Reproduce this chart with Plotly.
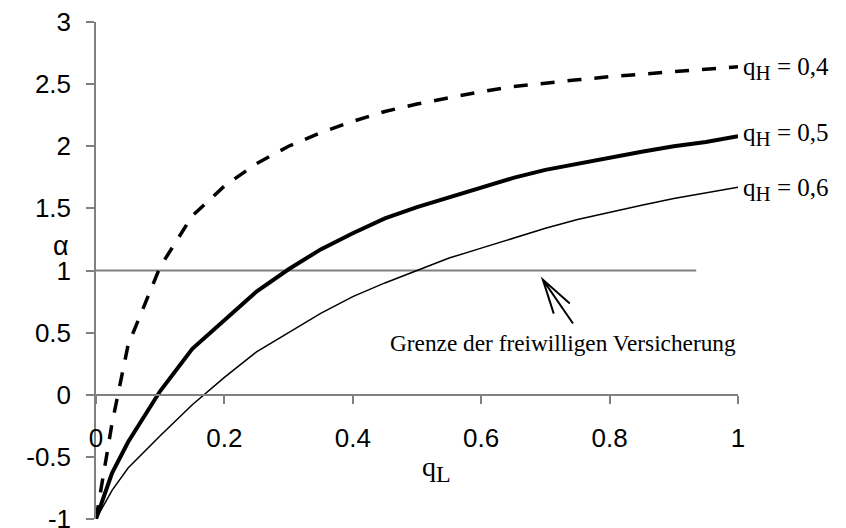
import plotly.graph_objects as go

# ---- data ----
q_L = [0, 0.025, 0.05, 0.1, 0.15, 0.2, 0.25, 0.3, 0.35, 0.4, 0.45, 0.5,
       0.55, 0.6, 0.65, 0.7, 0.75, 0.8, 0.85, 0.9, 0.95, 1.0]
alpha_qH04 = [-1, -0.23, 0.40, 1.03, 1.44, 1.68, 1.86, 2.00, 2.11, 2.20, 2.28, 2.34,
              2.39, 2.44, 2.48, 2.51, 2.535, 2.56, 2.58, 2.60, 2.62, 2.64]
alpha_qH05 = [-1, -0.63, -0.38, 0.03, 0.37, 0.60, 0.83, 1.01, 1.17, 1.30, 1.42, 1.51,
              1.59, 1.67, 1.745, 1.81, 1.86, 1.91, 1.955, 2.00, 2.035, 2.08]
alpha_qH06 = [-1, -0.77, -0.59, -0.33, -0.08, 0.14, 0.345, 0.50, 0.655, 0.79, 0.90, 1.00,
              1.10, 1.18, 1.26, 1.34, 1.41, 1.47, 1.525, 1.58, 1.625, 1.67]
limit_x = [0, 0.935]
limit_y = [1, 1]

series_labels = ["q<sub><span style='font-size:21px'>H</span></sub> = 0,4",
                 "q<sub><span style='font-size:21px'>H</span></sub> = 0,5",
                 "q<sub><span style='font-size:21px'>H</span></sub> = 0,6"]
series_label_y = [2.62, 2.09, 1.65]

x_tickvals = [0, 0.2, 0.4, 0.6, 0.8, 1]
x_ticktext = ["0", "0.2", "0.4", "0.6", "0.8", "1"]
y_tickvals = [-1, -0.5, 0, 0.5, 1, 1.5, 2, 2.5, 3]
y_ticktext = ["-1", "-0.5", "0", "0.5", "1", "1.5", "2", "2.5", "3"]

note_text = "Grenze der freiwilligen Versicherung"
note_pos = (0.727, 0.42)
# arrow path points: shaft end, tip, head ends
arrow_shaft = (0.743, 0.573)
arrow_tip = (0.696, 0.927)
arrow_head1 = (0.738, 0.734)
arrow_head2 = (0.713, 0.653)

SERIF = "Liberation Serif, Times New Roman, serif"
SANS = "Liberation Sans, Arial, sans-serif"

fig = go.Figure()
fig.add_trace(go.Scatter(x=limit_x, y=limit_y, mode="lines",
                         line=dict(color="#808080", width=2), showlegend=False))
fig.add_trace(go.Scatter(x=q_L, y=alpha_qH06, mode="lines",
                         line=dict(color="black", width=1.5), showlegend=False))
fig.add_trace(go.Scatter(x=q_L, y=alpha_qH05, mode="lines",
                         line=dict(color="black", width=4), showlegend=False))
fig.add_trace(go.Scatter(x=q_L, y=alpha_qH04, mode="lines",
                         line=dict(color="black", width=3.5, dash="14px,13px"),
                         showlegend=False))

for txt, yv in zip(series_labels, series_label_y):
    fig.add_annotation(x=1, y=yv, xref="x", yref="y", text=txt, showarrow=False,
                       xanchor="left", yanchor="middle", xshift=3,
                       font=dict(family=SERIF, size=25, color="black"))

fig.add_annotation(x=note_pos[0], y=note_pos[1], xref="x", yref="y", text=note_text,
                   showarrow=False, xanchor="center", yanchor="middle",
                   font=dict(family=SERIF, size=23.3, color="black"))

path = (f"M{arrow_shaft[0]},{arrow_shaft[1]} L{arrow_tip[0]},{arrow_tip[1]} "
        f"M{arrow_head1[0]},{arrow_head1[1]} L{arrow_tip[0]},{arrow_tip[1]} "
        f"L{arrow_head2[0]},{arrow_head2[1]}")
fig.add_shape(type="path", path=path, xref="x", yref="y",
              line=dict(color="black", width=2))

# axis titles
fig.add_annotation(x=0.53, y=-0.6, xref="x", yref="y",
                   text="q<sub><span style='font-size:24px'>L</span></sub>",
                   showarrow=False, font=dict(family=SERIF, size=28, color="black"))
fig.add_annotation(x=-0.07, y=1.2, xref="paper", yref="y", text="α",
                   showarrow=False, font=dict(family=SANS, size=27, color="black"))

# page body has an 8px margin, so the figure is 8px smaller and margins shifted
fig.update_layout(
    width=838, height=520,
    margin=dict(l=88, r=108, t=14, b=9, autoexpand=False),
    paper_bgcolor="white", plot_bgcolor="white",
    showlegend=False,
    xaxis=dict(range=[0, 1], tickvals=x_tickvals, ticktext=x_ticktext,
               anchor="free", position=0.25, automargin=False,
               showgrid=False, zeroline=False, showline=True,
               linecolor="#808080", linewidth=1.5,
               ticks="outside", ticklen=8, tickcolor="#808080", tickwidth=1.5,
               ticklabelstandoff=12, ticklabeloverflow="allow",
               tickfont=dict(family=SANS, size=26, color="black")),
    yaxis=dict(range=[-1, 3], tickvals=y_tickvals, ticktext=y_ticktext,
               automargin=False,
               showgrid=False, zeroline=False, showline=True,
               linecolor="#808080", linewidth=1.5,
               ticks="outside", ticklen=8, tickcolor="#808080", tickwidth=1.5,
               ticklabelstandoff=10, ticklabeloverflow="allow",
               tickfont=dict(family=SANS, size=26, color="black")),
)

fig.write_html("out.html")
